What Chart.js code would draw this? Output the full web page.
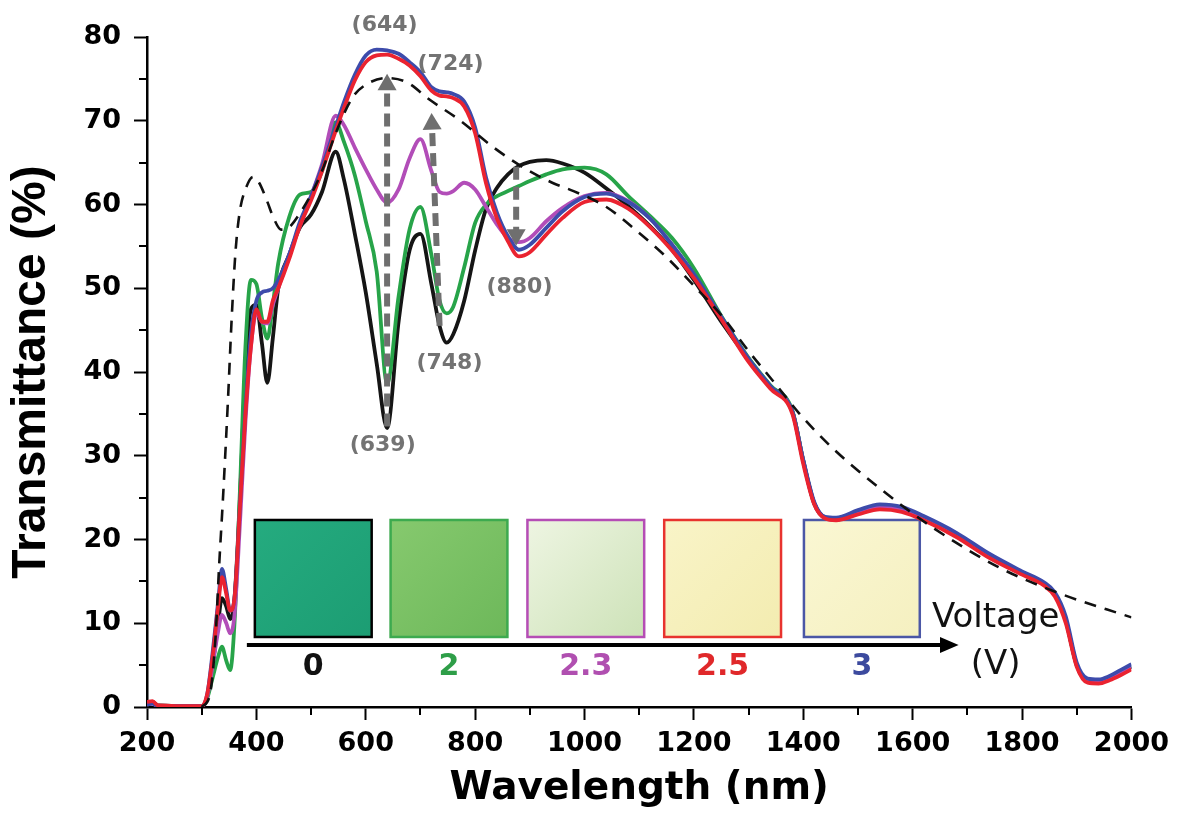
<!DOCTYPE html>
<html><head><meta charset="utf-8">
<script src="https://cdn.jsdelivr.net/npm/chart.js@4/dist/chart.umd.min.js"></script>
<style>html,body{margin:0;padding:0;background:#fff;}#wrap{width:1177px;height:814px;}</style>
</head><body><div id="wrap"><canvas id="c" width="1177" height="814"></canvas></div>
<script>
// ---- data ----
const wavelength = [200,210,220,300,310,320,330,337,345,352,360,370,380,390,400,410,420,430,440,460,480,500,520,545,560,580,600,620,639,660,680,700,720,735,748,760,780,800,820,840,860,880,900,930,960,1000,1040,1080,1120,1160,1200,1250,1300,1340,1380,1400,1420,1440,1460,1500,1540,1580,1620,1680,1740,1800,1840,1860,1880,1900,1920,1940,1960,1980,2000];
const t0V = [0.3,0.6,0.2,0.1,1.2,5,10,13,12,10.5,13,25,40,47.5,48,43.5,38.7,44,50,54,57.3,58.8,61.5,66.3,63,56.5,49.5,41,33.3,46,54.5,56.5,50.5,45.5,43.5,44.5,48.5,54.5,59.5,62,63.6,64.6,65.1,65.3,64.9,63.8,61.9,59.8,57.4,54.6,51,46,41.5,38.3,35.3,29.4,24.3,22.6,22.4,23.2,23.8,23.5,22.5,20.5,18,16,14.7,13.4,10.3,5,3.1,3,3.4,4.1,4.8];
const t2V = [0.3,0.5,0.1,0.1,1,3.5,6,7.2,5.5,4.4,10,26,43,51,50.5,46.5,44,48,53,58.5,61.2,61.5,64,69.8,67.5,63.5,58,52,38.6,49,57,59.7,54,48.5,47,47.8,52.5,57.8,60,61,61.6,62.2,62.8,63.6,64.2,64.4,63.6,61,58.6,56,52.4,46.7,41.7,38.4,35.4,29.4,24.3,22.6,22.4,23.2,23.8,23.5,22.5,20.5,18,16,14.7,13.4,10.3,5,3.1,3,3.4,4.1,4.8];
const t23V = [0.3,0.4,0.1,0.1,1.2,5,9,11,10,8.8,11,22,34,43,47,46,45.8,48,50,54,57.5,61,64.8,70.6,69.5,66.8,64.2,61.8,60.2,61.8,65.5,67.8,64,61.5,61.3,61.6,62.6,61.8,59.7,57.6,56,55.5,56,58,59.6,61,61.4,60.4,58.3,55.2,51.5,46.4,41.5,38.2,35.2,29.3,24.3,22.6,22.4,23.2,23.9,23.6,22.6,20.6,18.1,16,14.7,13.5,10.4,5,3.1,3,3.4,4.1,4.8];
const t25V = [0.6,0.7,0.2,0.1,1.5,6,12,15.5,13.5,11.5,13,24,35,43,47.5,46,46,48.5,50,53.5,57.5,60.5,64,68.8,71.5,74.8,77,77.8,77.9,77.4,76.6,75.3,73.6,73,72.9,72.7,71.7,68.5,62.5,58.3,55.6,53.8,54.3,56.4,58.4,60.3,60.6,59.5,57.3,54.5,51.2,46.3,41.2,38,35,29,24.2,22.5,22.3,23,23.6,23.3,22.3,20.3,17.8,15.8,14.5,13.2,10,4.8,2.9,2.8,3.2,3.8,4.5];
const t3V = [0.3,0.4,0.1,0.1,1.5,6.5,12.5,16.5,14,11.5,13,24,35.5,44.5,48.5,49.5,49.7,50,51,54,58,61,64.5,69.3,72.2,75.5,77.8,78.5,78.4,78,77,75.8,74,73.5,73.4,73.2,72.3,69.2,63.2,59,56.2,54.6,55.2,57.2,59.2,60.9,61.3,60.3,58.3,55.2,51.7,46.6,41.6,38.3,35.3,29.5,24.5,22.7,22.6,23.5,24.2,23.9,22.8,20.8,18.3,16.2,14.9,13.7,10.8,5.3,3.4,3.3,3.7,4.4,5.1];
const refWavelength = [300,315,325,332,339,348,355,362,370,380,394,405,419,432,445,460,480,500,520,545,576,600,638,675,717,771,832,886,941,980,1040,1100,1150,1200,1250,1300,1350,1392,1452,1544,1635,1757,1867,2000];
const refT = [0,1.5,8,17,25,36.6,46.6,54.5,59.3,61.8,63.3,62.6,60.5,58.3,57,57.3,59,61.2,64,68.5,72.8,74.3,75.1,74.6,72.5,70.1,66.9,64.5,62.6,61.6,59.7,56.6,53.7,50.3,46.8,42.5,38.5,35.1,31,25.9,21.5,16.7,13.6,10.7];
const voltageLabels = ['0','2','2.3','2.5','3'];
const peakLabels = ['(644)','(724)','(880)','(748)','(639)'];
// arrows: [x0,y0] -> [x1,y1]
const arrow644 = [[639,33.5],[639,74.3]];
const arrow724 = [[735,45.5],[721,69.6]];
const arrow880 = [[875,64.5],[875,56.4]];

const xTickValues = [200,400,600,800,1000,1200,1400,1600,1800,2000];

const pts = ys => wavelength.map((x,i)=>({x, y: ys[i]}));
const line = (label, data, color, order) => ({label, data, borderColor: color, backgroundColor: color, borderWidth: 3.8, pointRadius: 0, cubicInterpolationMode: 'monotone', fill: false, order});
const arrowDs = (label, a, rot) => ({label, data: a.map(p=>({x:p[0], y:p[1]})), borderColor:'#6f6f6f', backgroundColor:'#6f6f6f', borderWidth:6, borderDash:[13,7], pointRadius:[0,11], pointStyle:'triangle', rotation: rot, pointBorderWidth:0, order:0});

const deco = {
  id: 'deco',
  beforeDatasetsDraw(chart){
    const {ctx, scales:{x, y}} = chart;
    const sq = [[397.2,610.8,'#000000',['#25ab7f','#1c9d73']],[645.4,859.0,'#3daa4f',['#86c96e','#6db85a']],[895.6,1109.1,'#b54db5',['#eef5e2','#cde2b8']],[1145.7,1359.3,'#e8332e',['#f9f4c8','#f3ecb0']],[1401.2,1613.0,'#4b57a6',['#faf7d3','#f5f0c0']]];
    ctx.save();
    sq.forEach(s=>{
      const x0=x.getPixelForValue(s[0]), x1=x.getPixelForValue(s[1]);
      const y0=y.getPixelForValue(22.33), y1=y.getPixelForValue(8.36);
      const g=ctx.createLinearGradient(x0,y0,x1,y1);
      g.addColorStop(0,s[3][0]); g.addColorStop(1,s[3][1]);
      ctx.fillStyle=g; ctx.fillRect(x0,y0,x1-x0,y1-y0);
      ctx.strokeStyle=s[2]; ctx.lineWidth=2.5; ctx.strokeRect(x0,y0,x1-x0,y1-y0);
    });
    // voltage arrow
    const ay=y.getPixelForValue(7.4);
    const ax0=x.getPixelForValue(382.6), ab=x.getPixelForValue(1650), at=x.getPixelForValue(1684);
    ctx.strokeStyle='#000'; ctx.lineWidth=4;
    ctx.beginPath(); ctx.moveTo(ax0,ay); ctx.lineTo(ab+2,ay); ctx.stroke();
    ctx.fillStyle='#000';
    ctx.beginPath(); ctx.moveTo(at,ay); ctx.lineTo(ab,ay-8); ctx.lineTo(ab,ay+8); ctx.closePath(); ctx.fill();
    // voltage labels
    const cols=['#111111','#2e9e48','#b04fb0','#e0282a','#3c4a9e'];
    ctx.font='bold 30px "DejaVu Sans"'; ctx.textAlign='center'; ctx.textBaseline='middle';
    voltageLabels.forEach((t,i)=>{
      ctx.fillStyle=cols[i];
      ctx.fillText(t, x.getPixelForValue((sq[i][0]+sq[i][1])/2), y.getPixelForValue(4.78));
    });
    ctx.fillStyle='#111';
    ctx.font='34px "DejaVu Sans"';
    ctx.fillText('Voltage', x.getPixelForValue(1751.8), y.getPixelForValue(10.63));
    ctx.fillText('(V)', x.getPixelForValue(1751.8), y.getPixelForValue(5.01));
    ctx.restore();
  },
  afterDatasetsDraw(chart){
    const {ctx, scales:{x, y}} = chart;
    const pos=[[634.5,81.4],[755,76.8],[881,50.1],[753,41.0],[631,31.3]];
    ctx.save();
    ctx.font='bold 22px "DejaVu Sans"'; ctx.fillStyle='#737373'; ctx.textAlign='center'; ctx.textBaseline='middle';
    peakLabels.forEach((t,i)=>ctx.fillText(t, x.getPixelForValue(pos[i][0]), y.getPixelForValue(pos[i][1])));
    ctx.restore();
  },
  afterDraw(chart){
    const {ctx, scales:{x, y}, chartArea:ca} = chart;
    ctx.save(); ctx.strokeStyle='#000'; ctx.lineWidth=2;
    for(let v=300; v<2000; v+=200){ const px=Math.round(x.getPixelForValue(v)); ctx.beginPath(); ctx.moveTo(px,ca.bottom); ctx.lineTo(px,ca.bottom+8); ctx.stroke(); }
    for(let v=5; v<80; v+=10){ const py=Math.round(y.getPixelForValue(v)); ctx.beginPath(); ctx.moveTo(ca.left,py); ctx.lineTo(ca.left-8,py); ctx.stroke(); }
    ctx.restore();
  }
};

new Chart(document.getElementById('c'), {
  type: 'line',
  data: { datasets: [
    arrowDs('arrow 644', arrow644, 0),
    arrowDs('arrow 724', arrow724, -2),
    arrowDs('arrow 880', arrow880, 180),
    {label:'reference', data: refWavelength.map((x,i)=>({x, y: refT[i]})), borderColor:'#111', borderWidth:2.6, borderDash:[12,9], pointRadius:0, cubicInterpolationMode:'monotone', fill:false, order:1},
    line('2.5 V', pts(t25V), '#ea2330', 2),
    line('3 V', pts(t3V), '#3d4bab', 3),
    line('2.3 V', pts(t23V), '#b24db8', 4),
    line('2 V', pts(t2V), '#27a449', 5),
    line('0 V', pts(t0V), '#151515', 6)
  ]},
  options: {
    responsive: false, animation: false, devicePixelRatio: 1,
    layout: { padding: { left: 0, right: 44, top: 37, bottom: 0 } },
    plugins: { legend: { display: false }, tooltip: { enabled: false } },
    scales: {
      x: { type: 'linear', min: 200, max: 2000,
        afterBuildTicks(s){ s.ticks = xTickValues.map(v=>({value:v})); },
        ticks: { callback: v => String(v), font: { family: 'DejaVu Sans', weight: 'bold', size: 27 }, color: '#000', padding: 8, maxRotation: 0, autoSkip: false },
        grid: { display: true, drawOnChartArea: false, drawTicks: true, tickLength: 13, tickWidth: 2, tickColor: '#000' },
        border: { display: true, color: '#000', width: 2.5 },
        title: { display: true, text: 'Wavelength (nm)', color: '#000', font: { family: 'DejaVu Sans', weight: 'bold', size: 39 }, padding: { top: 0, bottom: 2 } },
        afterFit(s){ s.height = 107; }
      },
      y: { min: 0, max: 80,
        ticks: { stepSize: 10, callback: v => String(v), font: { family: 'DejaVu Sans', weight: 'bold', size: 27 }, color: '#000', padding: 13 },
        grid: { display: true, drawOnChartArea: false, drawTicks: true, tickLength: 13, tickWidth: 2, tickColor: '#000' },
        border: { display: true, color: '#000', width: 2.5 },
        title: { display: true, text: 'Transmittance (%)', color: '#000', font: { family: 'Liberation Sans', weight: 'bold', size: 48 }, padding: { top: 3, bottom: 0 } },
        afterFit(s){ s.width = 147; }
      }
    }
  },
  plugins: [deco]
});
</script></body></html>
